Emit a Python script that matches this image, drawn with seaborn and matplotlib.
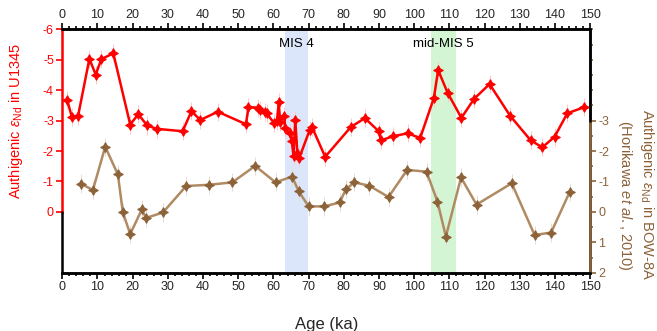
import numpy as np
import pandas as pd
import matplotlib
matplotlib.use("Agg")
import matplotlib.pyplot as plt
from matplotlib.ticker import MultipleLocator
import seaborn as sns

# U1345 authigenic eNd (red)
u1345_age = [1.4, 2.7, 4.5, 7.7, 9.5, 11.1, 14.5, 19.3, 21.6, 24.1, 26.8, 34.2, 36.7, 39.2,
             44.2, 52.2, 52.9, 55.7, 56.3, 57.5, 58.1, 60.2, 61.0, 61.5, 61.9, 63.1, 63.3,
             64.6, 65.2, 65.7, 66.2, 66.8, 67.3, 70.3, 70.9, 74.7, 82.0, 86.0, 89.9, 90.6,
             94.1, 98.1, 101.7, 105.6, 106.8, 109.5, 113.4, 117.0, 121.4, 127.3, 133.1,
             136.4, 139.9, 143.5, 148.3]
u1345_end = [-3.67, -3.13, -3.16, -5.03, -4.51, -5.02, -5.21, -2.87, -3.21, -2.84, -2.73,
             -2.65, -3.31, -3.02, -3.29, -2.88, -3.45, -3.42, -3.36, -3.29, -3.24, -2.91,
             -2.99, -3.60, -2.96, -3.15, -2.75, -2.58, -2.34, -1.84, -3.02, -1.92, -1.76,
             -2.69, -2.80, -1.81, -2.79, -3.08, -2.65, -2.35, -2.49, -2.58, -2.43, -3.75,
             -4.66, -3.91, -3.09, -3.71, -4.20, -3.15, -2.35, -2.12, -2.47, -3.24, -3.44]
u1345_err = 0.3

# BOW-8A authigenic eNd (brown, Horikawa et al., 2010)
bow_age = [5.2, 8.7, 12.2, 15.8, 17.2, 19.3, 22.6, 23.8, 28.6, 35.2, 41.7, 48.3, 54.8,
           60.6, 65.3, 67.2, 70.0, 74.5, 78.8, 80.6, 83.0, 87.2, 92.7, 98.0, 103.5, 106.6,
           109.0, 113.3, 117.7, 127.7, 134.2, 138.9, 144.2]
bow_end = [-0.93, -0.72, -2.14, -1.23, 0.01, 0.73, -0.08, 0.20, 0.02, -0.85, -0.89, -0.97,
           -1.51, -0.97, -1.16, -0.67, -0.18, -0.18, -0.31, -0.74, -0.97, -0.86, -0.49,
           -1.38, -1.32, -0.34, 0.81, -1.13, -0.24, -0.94, 0.76, 0.68, -0.66]
bow_err = 0.3

# shaded intervals
mis_labels = ["MIS 4", "mid-MIS 5"]
mis_start = [63.3, 104.8]
mis_end = [69.7, 111.9]
mis_colors = ["#dbe6fb", "#d4f5d4"]

red = "#ff0000"
brown = "#8c6239"
brown_line = "#b08a63"

sns.set_style("white")
plt.rcParams["font.family"] = ["Liberation Sans", "DejaVu Sans"]
plt.rcParams["axes.unicode_minus"] = False
plt.rcParams["mathtext.fontset"] = "custom"
plt.rcParams["mathtext.rm"] = "Liberation Sans"
plt.rcParams["mathtext.it"] = "Liberation Sans:italic"

fig = plt.figure(figsize=(6.57, 3.31), dpi=100)
ax = fig.add_axes([0.0948, 0.176, 0.8035, 0.7355])

for lab, s, e, c in zip(mis_labels, mis_start, mis_end, mis_colors):
    ax.axvspan(s, e, color=c, lw=0, zorder=0)
    ax.text((s + e) / 2, 0.94, lab, transform=ax.get_xaxis_transform(),
            ha="center", va="center", fontsize=9.5, color="black")

red_df = pd.DataFrame({"age": u1345_age, "end": u1345_end})
bow_df = pd.DataFrame({"age": bow_age, "end": bow_end})

ax.errorbar(red_df["age"], red_df["end"], yerr=u1345_err, fmt="none",
            ecolor="#ffc8c8", elinewidth=0.7, zorder=1)
sns.lineplot(data=red_df, x="age", y="end", sort=False, ax=ax, color=red, lw=1.8,
             marker=(4, 1, 0), markersize=7, markeredgecolor=red, markerfacecolor=red,
             zorder=3)

ax2 = ax.twinx()
ax2.errorbar(bow_df["age"], bow_df["end"], yerr=bow_err, fmt="none",
             ecolor="#e6ddd4", elinewidth=0.7, zorder=1)
sns.lineplot(data=bow_df, x="age", y="end", sort=False, ax=ax2, color=brown_line, lw=1.8,
             marker=(4, 1, 0), markersize=7, markeredgecolor=brown, markerfacecolor=brown,
             zorder=3)

for a in (ax, ax2):
    a.set_xlim(0, 150)
    a.set_ylim(2, -6)
    for s in a.spines.values():
        s.set_linewidth(1.8)
        s.set_color("black")

# x axis ticks top and bottom
ax.xaxis.set_major_locator(MultipleLocator(10))
ax.xaxis.set_minor_locator(MultipleLocator(2))
ax.tick_params(axis="x", which="both", top=True, bottom=True, labeltop=True,
               labelbottom=True, direction="out", labelsize=9, color="black", pad=2)
ax.tick_params(axis="x", which="major", length=4, width=1.2)
ax.tick_params(axis="x", which="minor", length=2, width=1.2)
ax.set_xlabel("Age (ka)", fontsize=12, labelpad=17)

# left axis (red)
ax.set_yticks([-6, -5, -4, -3, -2, -1, 0])
ax.tick_params(axis="y", which="both", left=True, right=False, colors=red,
               labelsize=9, length=4, width=1.2, direction="out", pad=2)
ax.spines["left"].set_color(red)
ax.spines["left"].set_bounds(0, -6)
ax.axvline(0, ymin=0, ymax=0.25, color="black", lw=1.8, clip_on=False, zorder=5)
ax.set_ylabel(r"Authigenic $\varepsilon_{\mathrm{Nd}}$ in U1345", color=red, fontsize=10.5)
ax.yaxis.set_label_coords(-0.071, 0.623)

# right axis (brown)
ax2.set_yticks([-3, -2, -1, 0, 1, 2])
ax2.yaxis.set_minor_locator(MultipleLocator(0.5))
ax2.tick_params(axis="y", which="both", right=True, left=False, colors=brown,
                labelsize=9, width=1.2, direction="out", pad=2)
ax2.tick_params(axis="y", which="major", length=4)
ax2.tick_params(axis="y", which="minor", length=2)
ax2.spines["right"].set_color(brown)
ax2.spines["right"].set_bounds(2, -3)
ax2.axvline(150, ymin=0.625, ymax=1, color="black", lw=1.8, clip_on=False, zorder=5)
ax2.set_ylabel("Authigenic $\\varepsilon_{\\mathrm{Nd}}$ in BOW-8A\n(Horikawa $\\it{et\\ al.}$, 2010)",
               color=brown, fontsize=10.5, rotation=270, linespacing=1.35)
ax2.yaxis.set_label_coords(1.125, 0.32)
ax2.spines["left"].set_visible(False)
ax2.set_xlabel("")

fig.savefig("out.png", dpi=100)
